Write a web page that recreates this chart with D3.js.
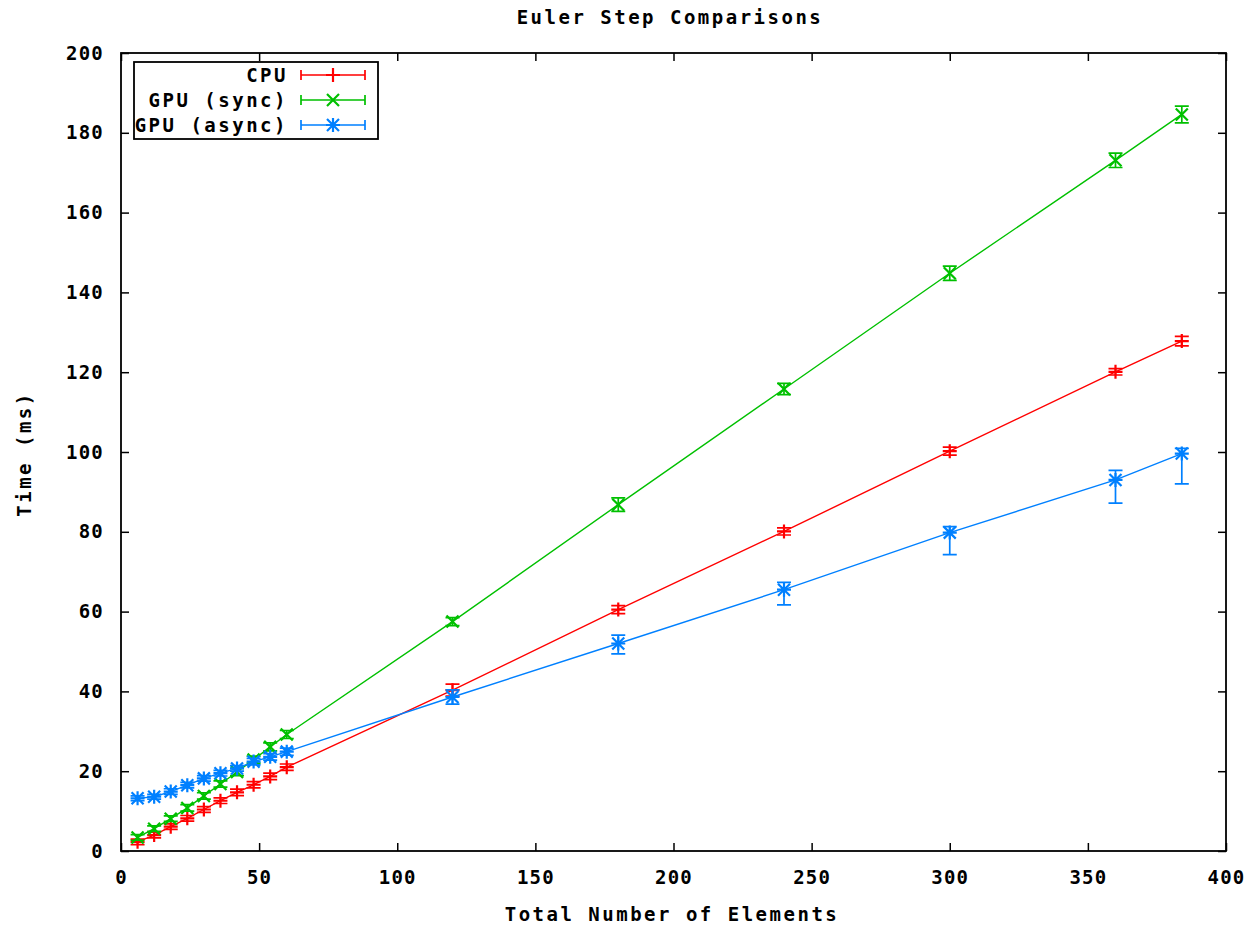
<!DOCTYPE html>
<html>
<head>
<meta charset="utf-8">
<script src="https://cdn.jsdelivr.net/npm/d3@7"></script>
<style>
  body { margin: 0; background: #fff; }
  text { font-family: "DejaVu Sans Mono", monospace; font-weight: bold; font-size: 19px; letter-spacing: 2.5px; fill: #000; }
</style>
</head>
<body>
<div id="chart"></div>
<script>
// Chart size
const w = 1256;
const h = 926;

// Data
const elements = [6, 12, 18, 24, 30, 36, 42, 48, 54, 60, 120, 180, 240, 300, 360, 384];

const cpuTime = [2.3, 4.0, 6.1, 8.2, 10.4, 12.6, 14.7, 16.6, 18.7, 21.0, 40.3, 60.5, 80.1, 100.2, 120.1, 127.8];
const cpuErr  = [0.7, 0.7, 0.7, 0.7, 0.7, 0.7, 0.8, 0.8, 0.8, 0.8, 1.5, 1.0, 0.9, 1.0, 0.8, 1.2];

const syncTime = [3.4, 5.6, 8.1, 10.8, 13.8, 16.8, 19.8, 22.9, 26.1, 29.2, 57.5, 86.8, 115.8, 144.8, 173.1, 184.6];
const syncErr  = [0.7, 0.7, 0.7, 0.8, 0.8, 0.8, 0.9, 0.9, 1.0, 1.0, 1.0, 1.7, 1.4, 1.8, 1.8, 2.1];

const asyncTime = [13.2, 13.6, 14.9, 16.5, 18.2, 19.5, 20.7, 22.4, 23.6, 24.9, 38.6, 52.0, 65.5, 79.8, 93.0, 99.6];
const asyncLow  = [12.6, 13.0, 14.2, 15.8, 17.5, 18.8, 20.0, 21.6, 22.8, 24.0, 36.8, 49.4, 61.7, 74.3, 87.2, 92.0];
const asyncHigh = [13.8, 14.2, 15.6, 17.2, 18.9, 20.2, 21.4, 23.2, 24.4, 25.8, 40.4, 54.1, 67.3, 81.3, 95.4, 100.9];

const xTicks = [0, 50, 100, 150, 200, 250, 300, 350, 400];
const yTicks = [0, 20, 40, 60, 80, 100, 120, 140, 160, 180, 200];

const seriesNames = ["CPU", "GPU (sync)", "GPU (async)"];
const seriesColors = ["#ff0000", "#00c000", "#0080ff"];

// Plot box
const plotLeft = 121, plotRight = 1226, plotTop = 53, plotBottom = 851;

const svg = d3.select("#chart")
    .append("svg")
    .attr("width", w)
    .attr("height", h);

const xScale = d3.scaleLinear().domain([0, 400]).range([plotLeft, plotRight]);
const yScale = d3.scaleLinear().domain([0, 200]).range([plotBottom, plotTop]);

// ticks on all four sides, pointing inward
const tickLen = 8;
svg.append("g")
    .attr("transform", `translate(0,${plotBottom})`)
    .call(d3.axisBottom(xScale).tickValues(xTicks).tickSize(-tickLen).tickPadding(20).tickFormat(d3.format("d")))
    .call(g => g.select(".domain").remove());
svg.append("g")
    .attr("transform", `translate(0,${plotTop})`)
    .call(d3.axisTop(xScale).tickValues(xTicks).tickSize(-tickLen).tickFormat(""))
    .call(g => g.select(".domain").remove());
svg.append("g")
    .attr("transform", `translate(${plotLeft},0)`)
    .call(d3.axisLeft(yScale).tickValues(yTicks).tickSize(-tickLen).tickPadding(17).tickFormat(d3.format("d")))
    .call(g => g.select(".domain").remove());
svg.append("g")
    .attr("transform", `translate(${plotRight},0)`)
    .call(d3.axisRight(yScale).tickValues(yTicks).tickSize(-tickLen).tickFormat(""))
    .call(g => g.select(".domain").remove());

svg.selectAll(".tick line").attr("stroke", "#000").attr("stroke-width", 1.5);
svg.selectAll(".tick text")
    .style("font-family", "'DejaVu Sans Mono', monospace")
    .style("font-weight", "bold")
    .style("font-size", "19px")
    .style("letter-spacing", "1.2px")
    .attr("fill", "#000");

// frame
svg.append("rect")
    .attr("x", plotLeft).attr("y", plotTop)
    .attr("width", plotRight - plotLeft).attr("height", plotBottom - plotTop)
    .attr("fill", "none").attr("stroke", "#000").attr("stroke-width", 1.8);

// titles
svg.append("text").attr("x", 670).attr("y", 24).attr("text-anchor", "middle").text("Euler Step Comparisons");
svg.append("text").attr("x", 672).attr("y", 921).attr("text-anchor", "middle").text("Total Number of Elements");
svg.append("text")
    .attr("transform", "translate(31,454) rotate(-90)")
    .attr("text-anchor", "middle")
    .text("Time (ms)");

// markers
function drawMarker(g, type, x, y, color) {
    const s = 6;
    const p = d3.path();
    if (type === 0 || type === 2) {
        p.moveTo(x - s - 1, y); p.lineTo(x + s + 1, y);
        p.moveTo(x, y - s - 1); p.lineTo(x, y + s + 1);
    }
    if (type === 1 || type === 2) {
        p.moveTo(x - s, y - s); p.lineTo(x + s, y + s);
        p.moveTo(x - s, y + s); p.lineTo(x + s, y - s);
    }
    g.append("path").attr("d", p.toString())
        .attr("stroke", color).attr("stroke-width", 2.2).attr("fill", "none");
}

const capW = 7;
const allSeries = [
    { y: cpuTime, lo: cpuTime.map((v, i) => v - cpuErr[i]), hi: cpuTime.map((v, i) => v + cpuErr[i]) },
    { y: syncTime, lo: syncTime.map((v, i) => v - syncErr[i]), hi: syncTime.map((v, i) => v + syncErr[i]) },
    { y: asyncTime, lo: asyncLow, hi: asyncHigh }
];

allSeries.forEach((s, k) => {
    const color = seriesColors[k];
    const g = svg.append("g");
    const pts = elements.map((x, i) => [x, s.y[i]]);
    g.append("path")
        .datum(pts)
        .attr("d", d3.line().x(d => xScale(d[0])).y(d => yScale(d[1])))
        .attr("fill", "none")
        .attr("stroke", color)
        .attr("stroke-width", 1.4);

    // error bars
    elements.forEach((x, i) => {
        const px = xScale(x);
        const y0 = yScale(s.lo[i]), y1 = yScale(s.hi[i]);
        const p = d3.path();
        p.moveTo(px, y0); p.lineTo(px, y1);
        p.moveTo(px - capW, y0); p.lineTo(px + capW, y0);
        p.moveTo(px - capW, y1); p.lineTo(px + capW, y1);
        g.append("path").attr("d", p.toString())
            .attr("stroke", color).attr("stroke-width", 1.7).attr("fill", "none");
        drawMarker(g, k, px, yScale(s.y[i]), color);
    });
});

// legend
const legend = svg.append("g");
legend.append("rect")
    .attr("x", 134).attr("y", 62).attr("width", 244).attr("height", 77)
    .attr("fill", "#fff").attr("stroke", "#000").attr("stroke-width", 1.8);

seriesNames.forEach((name, k) => {
    const ly = 75 + k * 25;
    const color = seriesColors[k];
    legend.append("text")
        .attr("x", 288).attr("y", ly + 7)
        .attr("text-anchor", "end")
        .text(name);
    const p = d3.path();
    p.moveTo(301, ly); p.lineTo(365, ly);
    p.moveTo(301, ly - 5); p.lineTo(301, ly + 5);
    p.moveTo(365, ly - 5); p.lineTo(365, ly + 5);
    legend.append("path").attr("d", p.toString())
        .attr("stroke", color).attr("stroke-width", 1.7).attr("fill", "none");
    drawMarker(legend, k, 333, ly, color);
});
</script>
</body>
</html>
